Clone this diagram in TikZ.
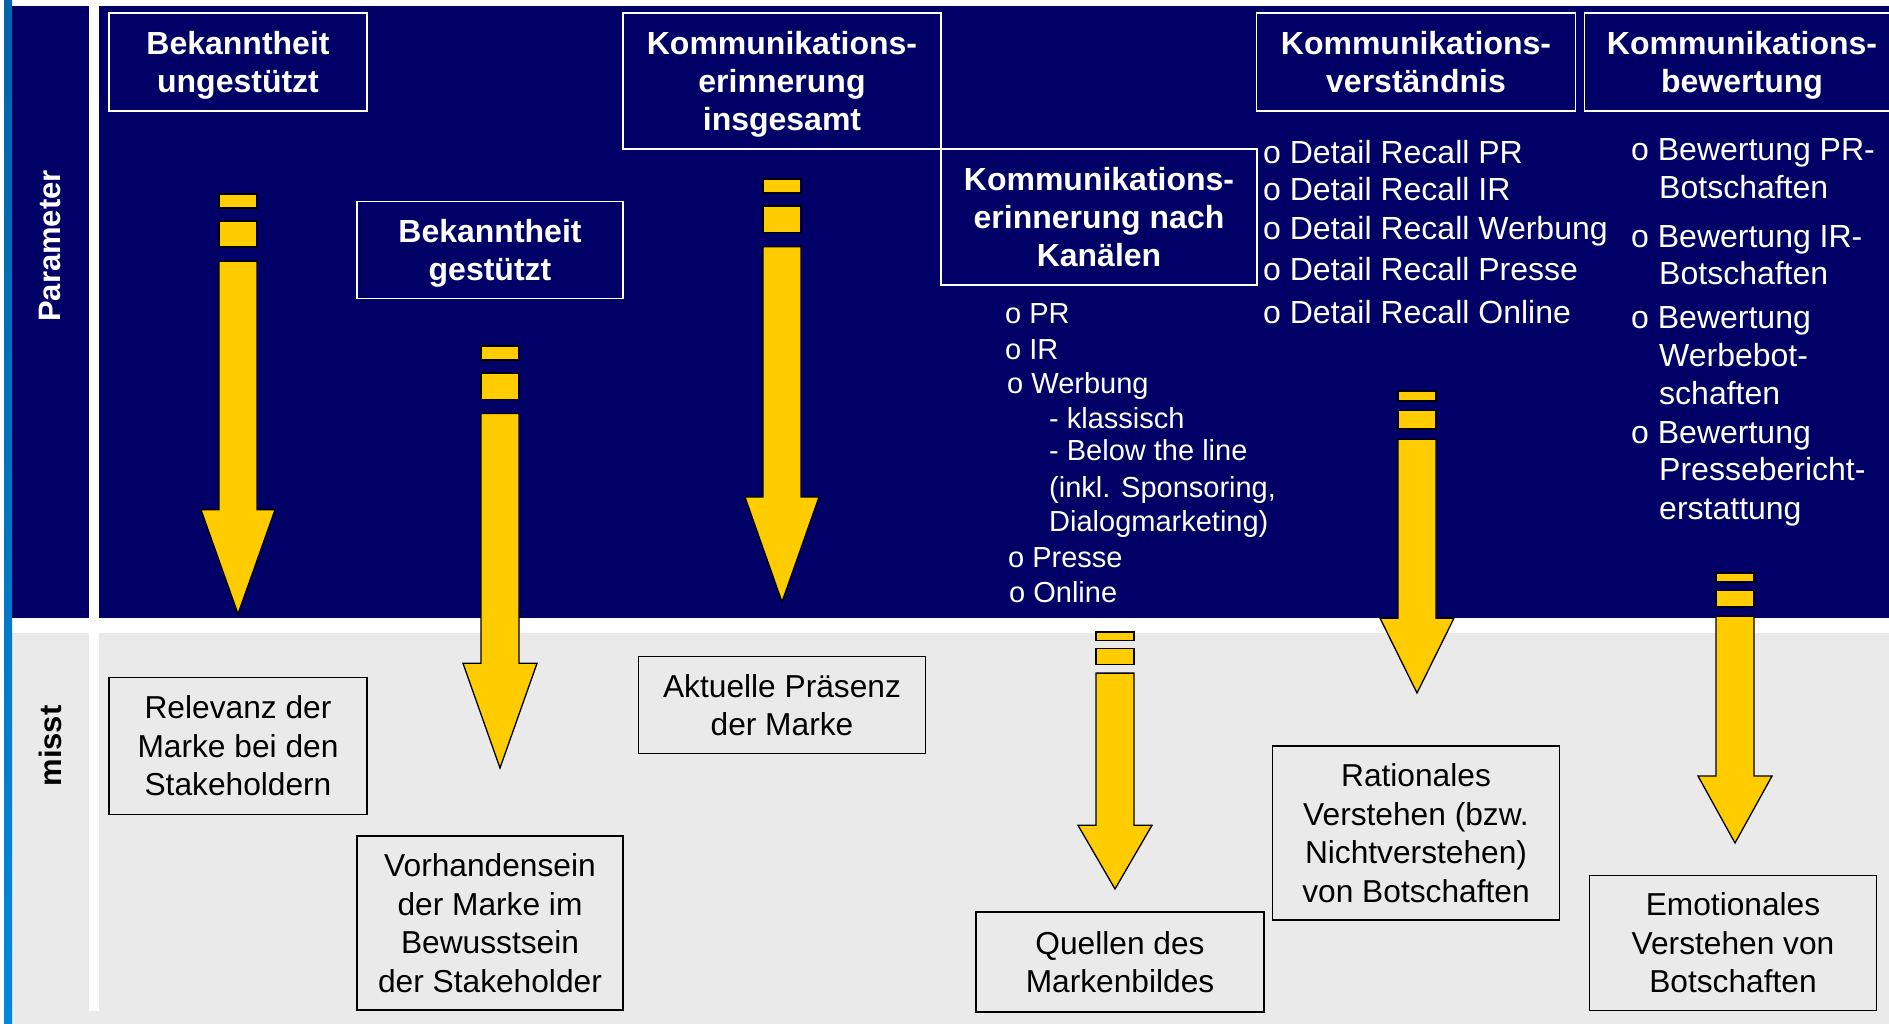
\documentclass[tikz,border=0pt]{standalone}
\usepackage{fontspec}
\setmainfont{Liberation Sans}
\definecolor{navy}{RGB}{0,0,102}
\definecolor{hellgrau}{RGB}{234,234,234}
\definecolor{gelb}{RGB}{255,204,0}
\definecolor{streifenoben}{RGB}{0,100,170}
\definecolor{streifenunten}{RGB}{0,136,221}

\begin{document}
\begin{tikzpicture}[x=1pt, y=-1pt,
    headbox/.style={rectangle, draw=white, line width=1.5pt, text=white, align=center, inner sep=0pt, text depth=0pt,
        font=\bfseries\fontsize{32}{38}\selectfont},
    resultbox/.style={rectangle, draw=black, line width=1.5pt, fill=hellgrau, text=black, align=center, inner sep=0pt,
        text depth=0pt, font=\fontsize{31.7}{38.5}\selectfont, execute at begin node=\rule{0pt}{27.5pt}},
    listtext/.style={text=white, anchor=base west, inner sep=0pt, font=\fontsize{32}{38}\selectfont},
    sidelabel/.style={rotate=90, inner sep=0pt, font=\bfseries\fontsize{31}{38}\selectfont},
    arrowpart/.style={fill=gelb, draw=black, line width=1.3pt, line join=miter}
]
    \useasboundingbox (0,0) rectangle (1889,1024);
    \clip (0,0) rectangle (1889,1024);

    % Hintergrund
    \fill[white] (0,0) rectangle (1889,1024);
    \fill[navy] (12,6) rectangle (1889,618);
    \fill[hellgrau] (12,633) rectangle (1889,1024);
    \fill[white] (89,0) rectangle (99,1011);
    \shade[top color=streifenoben, bottom color=streifenunten] (4,0) rectangle (12,1024);

    \node[sidelabel, text=white] (parameter) at (50,246) {Parameter};
    \node[sidelabel, text=black] (misst) at (50,746) {misst};

    % Parameter
    \node[headbox, minimum width=258, minimum height=98] (ungestuetzt) at (238,62) {Bekanntheit\\ungestützt};
    \node[headbox, minimum width=266, minimum height=97] (gestuetzt) at (490,250) {Bekanntheit\\gestützt};
    \node[headbox, minimum width=318, minimum height=136] (insgesamt) at (782,81) {Kommunikations-\\erinnerung\\insgesamt};
    \node[headbox, minimum width=316, minimum height=136] (kanaele) at (1099,217) {Kommunikations-\\erinnerung nach\\Kanälen};
    \node[headbox, minimum width=319, minimum height=98] (verstaendnis) at (1416,62) {Kommunikations-\\verständnis};
    \node[headbox, minimum width=315, minimum height=98] (bewertung) at (1742,62) {Kommunikations-\\bewertung};

    % Listen
    \foreach \x/\y/\t [count=\i] in {1005/323/o PR, 1005/359/o IR, 1007/393/o Werbung, 1049/428/- klassisch,
        1049/460/- Below the line, 1049/497/{(inkl. Sponsoring,}, 1049/531/Dialogmarketing),
        1008/567/o Presse, 1009/602/o Online}
        \node[listtext, font=\fontsize{29}{35}\selectfont] (kanal\i) at (\x,\y) {\t};

    \foreach \y/\t in {164/PR, 201/IR, 240/Werbung, 280/Presse, 323/Online}
        \node[listtext] (recall\t) at (1263,\y) {o Detail Recall \t};

    \foreach \x/\y/\t [count=\i] in {1631/161/o Bewertung PR-, 1659/199/Botschaften, 1631/248/o Bewertung IR-,
        1659/284/Botschaften, 1631/328/o Bewertung, 1659/366/Werbebot-, 1659/404/schaften,
        1631/443/o Bewertung, 1659/480/Pressebericht-, 1659/519/erstattung}
        \node[listtext] (bew\i) at (\x,\y) {\t};

    % Pfeile
    \foreach \cx/\ta/\tb in {238/194/614, 500/346/768, 782/179/602, 1115/632/889, 1417/391/693, 1735/573/843} {
        \pgfmathsetmacro\len{\tb-\ta}
        \draw[arrowpart] (\cx-19,\ta) rectangle (\cx+19,\ta+0.033*\len);
        \draw[arrowpart] (\cx-19,\ta+0.064*\len) rectangle (\cx+19,\ta+0.126*\len);
        \draw[arrowpart] (\cx-19,\ta+0.16*\len) -- (\cx+19,\ta+0.16*\len) -- (\cx+19,\ta+0.752*\len)
            -- (\cx+37,\ta+0.752*\len) -- (\cx,\tb) -- (\cx-37,\ta+0.752*\len) -- (\cx-19,\ta+0.752*\len) -- cycle;
    }

    % misst
    \node[resultbox, minimum width=258, minimum height=137] (relevanz) at (238,746) {Relevanz der\\Marke bei den\\Stakeholdern};
    \node[resultbox, minimum width=266, minimum height=174] (vorhanden) at (490,923) {Vorhandensein\\der Marke im\\Bewusstsein\\der Stakeholder};
    \node[resultbox, minimum width=287, minimum height=97] (praesenz) at (782,705) {Aktuelle Präsenz\\der Marke};
    \node[resultbox, minimum width=288, minimum height=100] (quellen) at (1120,962) {Quellen des\\Markenbildes};
    \node[resultbox, minimum width=287, minimum height=174] (rational) at (1416,833) {Rationales\\Verstehen (bzw.\\Nichtverstehen)\\von Botschaften};
    \node[resultbox, minimum width=287, minimum height=135] (emotional) at (1733,943) {Emotionales\\Verstehen von\\Botschaften};
\end{tikzpicture}
\end{document}
